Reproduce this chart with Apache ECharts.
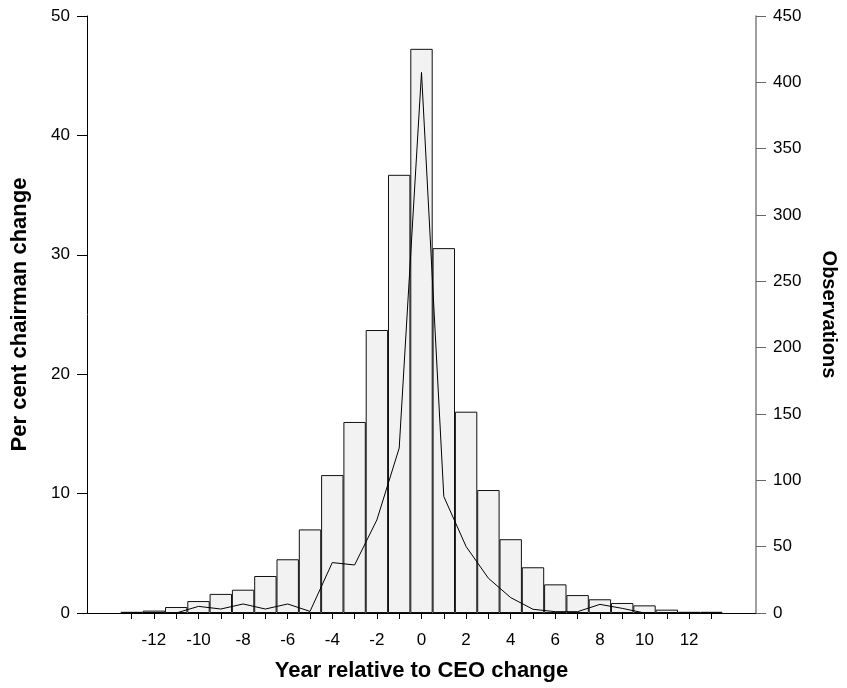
<!DOCTYPE html>
<html>
<head>
<meta charset="utf-8">
<script src="https://cdn.jsdelivr.net/npm/echarts@6/dist/echarts.min.js"></script>
<style>
  html, body { margin: 0; padding: 0; background: #fff; }
  #chart { width: 847px; height: 688px; }
</style>
</head>
<body>
<div id="chart"></div>
<script>
// year relative to CEO change, axis runs -15..15
var years = [];
for (var y = -15; y <= 15; y++) years.push(String(y));

// per cent chairman change (bars, left axis), years -13..13
var pctChange = [0.1, 0.2, 0.5, 1.0, 1.6, 1.95, 3.1, 4.5, 7.0, 11.55, 16.0, 23.7, 36.7, 47.25,
                 30.56, 16.86, 10.3, 6.18, 3.83, 2.4, 1.5, 1.15, 0.84, 0.64, 0.28, 0.1, 0.1];
// observations (line, right axis), years -13..13
var observations = [0, 0, 0, 5, 3, 6.8, 3, 6.8, 1.2, 38, 36.2, 70.2, 124.3, 407.5,
                    87.8, 50.1, 26.2, 11.6, 2.8, 1, 1, 6.5, 3.5, 0, 0, 0, 0];

var leftTicks = [0, 10, 20, 30, 40, 50];
var rightTicks = [0, 50, 100, 150, 200, 250, 300, 350, 400, 450];

// pad the -13..13 series out to the -15..15 axis
function pad(arr) {
  return [null, null].concat(arr, [null, null]);
}

var font = "Liberation Sans";
var gridLeft = 87, gridRight = 88;
var barW = (847 - gridLeft - gridRight) / (years.length - 1);

var myChart = echarts.init(document.getElementById("chart"));
var option = {
  animation: false,
  backgroundColor: "#fff",
  grid: { left: gridLeft, right: gridRight, top: 16, bottom: 75 },
  xAxis: [
    {
      type: "category",
      data: years,
      boundaryGap: false,
      name: "Year relative to CEO change",
      nameLocation: "middle",
      nameGap: 47,
      nameTextStyle: { fontFamily: font, fontSize: 22, fontWeight: "bold", color: "#000" },
      axisLine: { show: true, lineStyle: { color: "#000", width: 1 } },
      axisTick: {
        show: true, inside: false, length: 6,
        interval: function (i, v) { return Math.abs(Number(v)) <= 13; },
        lineStyle: { color: "#000" }
      },
      axisLabel: {
        show: true, margin: 19,
        interval: function (i, v) { var n = Number(v); return n % 2 === 0 && Math.abs(n) <= 12; },
        fontFamily: font, fontSize: 17, color: "#000"
      },
      splitLine: { show: false }
    },
    {
      type: "category",
      data: years,
      boundaryGap: false,
      position: "top",
      axisLine: { show: true, lineStyle: { color: "#000", width: 1 } },
      axisTick: { show: false },
      axisLabel: { show: false },
      splitLine: { show: false }
    }
  ],
  yAxis: [
    {
      type: "value",
      min: leftTicks[0],
      max: leftTicks[leftTicks.length - 1],
      interval: 10,
      name: "Per cent chairman change",
      nameLocation: "middle",
      nameRotate: 90,
      nameGap: 56,
      nameTextStyle: { fontFamily: font, fontSize: 22, fontWeight: "bold", color: "#000" },
      axisLine: { show: true, lineStyle: { color: "#000", width: 1 } },
      axisTick: { show: true, inside: false, length: 10, lineStyle: { color: "#000" } },
      axisLabel: { margin: 17, fontFamily: font, fontSize: 17, color: "#000" },
      splitLine: { show: false }
    },
    {
      type: "value",
      position: "right",
      min: rightTicks[0],
      max: rightTicks[rightTicks.length - 1],
      interval: 50,
      name: "Observations",
      nameLocation: "middle",
      nameRotate: -90,
      nameGap: 63,
      nameTextStyle: { fontFamily: font, fontSize: 20, fontWeight: "bold", color: "#000" },
      axisLine: { show: true, lineStyle: { color: "#808080", width: 1.5 } },
      axisTick: { show: true, inside: false, length: 10, lineStyle: { color: "#666" } },
      axisLabel: { margin: 17, fontFamily: font, fontSize: 17, color: "#000" },
      splitLine: { show: false }
    }
  ],
  series: [
    {
      name: "Per cent chairman change",
      type: "bar",
      xAxisIndex: 0,
      yAxisIndex: 0,
      data: pad(pctChange),
      barWidth: barW,
      barGap: "0%",
      itemStyle: { color: "#f2f2f2", borderColor: "#111", borderWidth: 1 }
    },
    {
      name: "Observations",
      type: "line",
      xAxisIndex: 0,
      yAxisIndex: 1,
      data: pad(observations),
      symbol: "none",
      connectNulls: false,
      lineStyle: { color: "#000", width: 1 },
      z: 3
    }
  ]
};
myChart.setOption(option);
</script>
</body>
</html>
